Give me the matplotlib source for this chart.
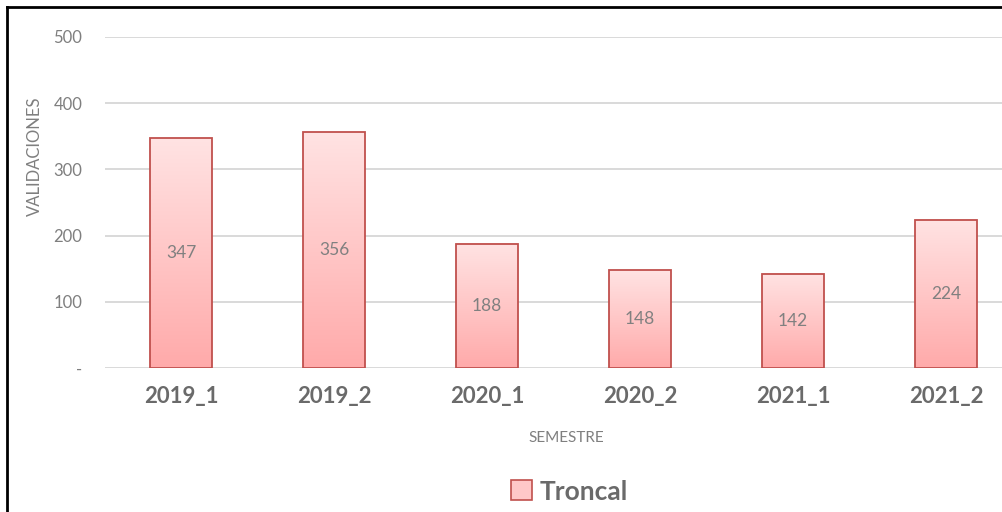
import numpy as np
import matplotlib.pyplot as plt
from matplotlib.lines import Line2D
from matplotlib.patches import Patch
from matplotlib.colors import LinearSegmentedColormap

semestres = ["2019_1", "2019_2", "2020_1", "2020_2", "2021_1", "2021_2"]
troncal = [347, 356, 188, 148, 142, 224]
yticks = [0, 100, 200, 300, 400, 500]
ytick_labels = ["-", "100", "200", "300", "400", "500"]

plt.rcParams['font.family'] = ['Lato', 'DejaVu Sans']
gray = '#7f7f7f'

fig = plt.figure(figsize=(10.03, 5.12), dpi=100)
ax = fig.add_axes([0.1042, 0.28125, 0.9153, 0.6465])

x = np.arange(len(semestres))
w = 0.405
ax.set_xlim(-0.5, len(semestres) - 0.5)
ax.set_ylim(0, 500)

# vertical gradient, light at top, deeper pink at the base
grad = np.linspace(0, 1, 256).reshape(-1, 1)
cmap = LinearSegmentedColormap.from_list('pk', ['#ffaaaa', '#ffe3e3'])
for xi, h in zip(x, troncal):
    ax.imshow(grad, cmap=cmap, origin='lower', aspect='auto',
              extent=[xi - w / 2, xi + w / 2, 0, h], zorder=2)
bars = ax.bar(x, troncal, width=w, facecolor='none', edgecolor='#c0504d',
              linewidth=1.3, zorder=3)
for xi, h in zip(x, troncal):
    ax.text(xi, h / 2, str(h), ha='center', va='center', fontsize=12.5,
            color='#808080', zorder=4)

ax.set_yticks(yticks)
ax.set_yticklabels(ytick_labels, fontsize=12, color=gray)
ax.set_xticks(x)
ax.set_xticklabels(semestres, fontsize=16, color='#6a6a6a', fontweight='bold')
ax.tick_params(length=0)
ax.tick_params(axis='x', pad=13)
ax.tick_params(axis='y', pad=16)
ax.grid(axis='y', color='#d9d9d9', linewidth=1.4, zorder=0)
ax.set_axisbelow(True)
for s in ax.spines.values():
    s.set_visible(False)

fig.text(0.035, 0.695, "VALIDACIONES", rotation=90, ha='center', va='center',
         fontsize=12, color=gray)
fig.text(0.565, 0.145, "SEMESTRE", ha='center', va='center',
         fontsize=11, color=gray)

handle = Patch(facecolor='#ffc8c8', edgecolor='#c0504d', linewidth=1.2)
fig.legend([handle], ["Troncal"], loc='center', bbox_to_anchor=(0.568, 0.04),
           frameon=False, prop={'size': 19, 'weight': 'bold'},
           labelcolor='#6a6a6a', handlelength=0.8, handleheight=0.8,
           handletextpad=0.3)

# black screenshot frame on top and left
fig.add_artist(Line2D([0.007, 1.0], [0.986, 0.986], color='black', lw=2))
fig.add_artist(Line2D([0.007, 0.007], [0.0, 0.986], color='black', lw=2))

fig.savefig('out.png', dpi=100)
